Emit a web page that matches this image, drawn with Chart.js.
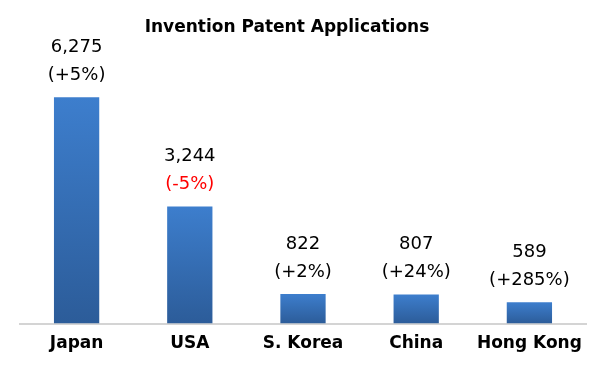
<!DOCTYPE html>
<html>
<head>
<meta charset="utf-8">
<script src="https://cdn.jsdelivr.net/npm/chart.js@4"></script>
<style>
  html, body { margin: 0; padding: 0; background: #fff; }
  #wrap { width: 600px; height: 375px; }
</style>
</head>
<body>
<div id="wrap"><canvas id="barChart" width="600" height="375"></canvas></div>
<script>
// Datos de la gráfica
const paises = ["Japan", "USA", "S. Korea", "China", "Hong Kong"];
const solicitudes = [6275, 3244, 822, 807, 589];
const cambios = ["(+5%)", "(-5%)", "(+2%)", "(+24%)", "(+285%)"];
const coloresCambio = ["#000000", "#ff0000", "#000000", "#000000", "#000000"];
const titulo = "Invention Patent Applications";

// Degradado por barra: claro arriba, oscuro abajo
function degradado(context) {
  const chart = context.chart;
  if (!chart.chartArea || context.dataIndex === undefined) return "#3573c0";
  const y = chart.scales.y;
  const top = y.getPixelForValue(solicitudes[context.dataIndex]);
  const bottom = y.getPixelForValue(0);
  const g = chart.ctx.createLinearGradient(0, top, 0, bottom);
  g.addColorStop(0, "#3d7ecd");
  g.addColorStop(1, "#2c5c99");
  return g;
}

// Plugin para el título y las etiquetas sobre las barras
const etiquetas = {
  id: "etiquetas",
  afterDatasetsDraw(chart) {
    const ctx = chart.ctx;
    const meta = chart.getDatasetMeta(0);
    ctx.save();
    ctx.textAlign = "center";
    ctx.textBaseline = "middle";
    ctx.font = "18px 'DejaVu Sans'";
    meta.data.forEach((bar, i) => {
      ctx.fillStyle = "#000000";
      ctx.fillText(solicitudes[i].toLocaleString("en-US"), bar.x, bar.y - 50);
      ctx.fillStyle = coloresCambio[i];
      ctx.fillText(cambios[i], bar.x, bar.y - 22);
    });
    ctx.fillStyle = "#000000";
    ctx.font = "bold 17px 'DejaVu Sans'";
    ctx.fillText(titulo, 287, 28);
    ctx.restore();
  }
};

const ctx = document.getElementById("barChart");

new Chart(ctx, {
  type: "bar",
  data: {
    labels: paises,
    datasets: [
      {
        data: solicitudes,
        backgroundColor: degradado,
        borderWidth: 0,
        barPercentage: 0.4,
        categoryPercentage: 1.0
      }
    ]
  },
  options: {
    responsive: false,
    animation: false,
    layout: {
      padding: { left: 20, right: 14, top: 35, bottom: 19 }
    },
    plugins: {
      legend: { display: false },
      title: { display: false },
      tooltip: { enabled: false }
    },
    scales: {
      x: {
        grid: { display: false },
        border: { display: true, color: "#d4d4d4", width: 2 },
        ticks: {
          color: "#000000",
          padding: 2,
          font: { family: "'DejaVu Sans'", size: 17, weight: "bold" }
        }
      },
      y: {
        display: false,
        min: 0,
        max: 8000
      }
    }
  },
  plugins: [etiquetas]
});
</script>
</body>
</html>
